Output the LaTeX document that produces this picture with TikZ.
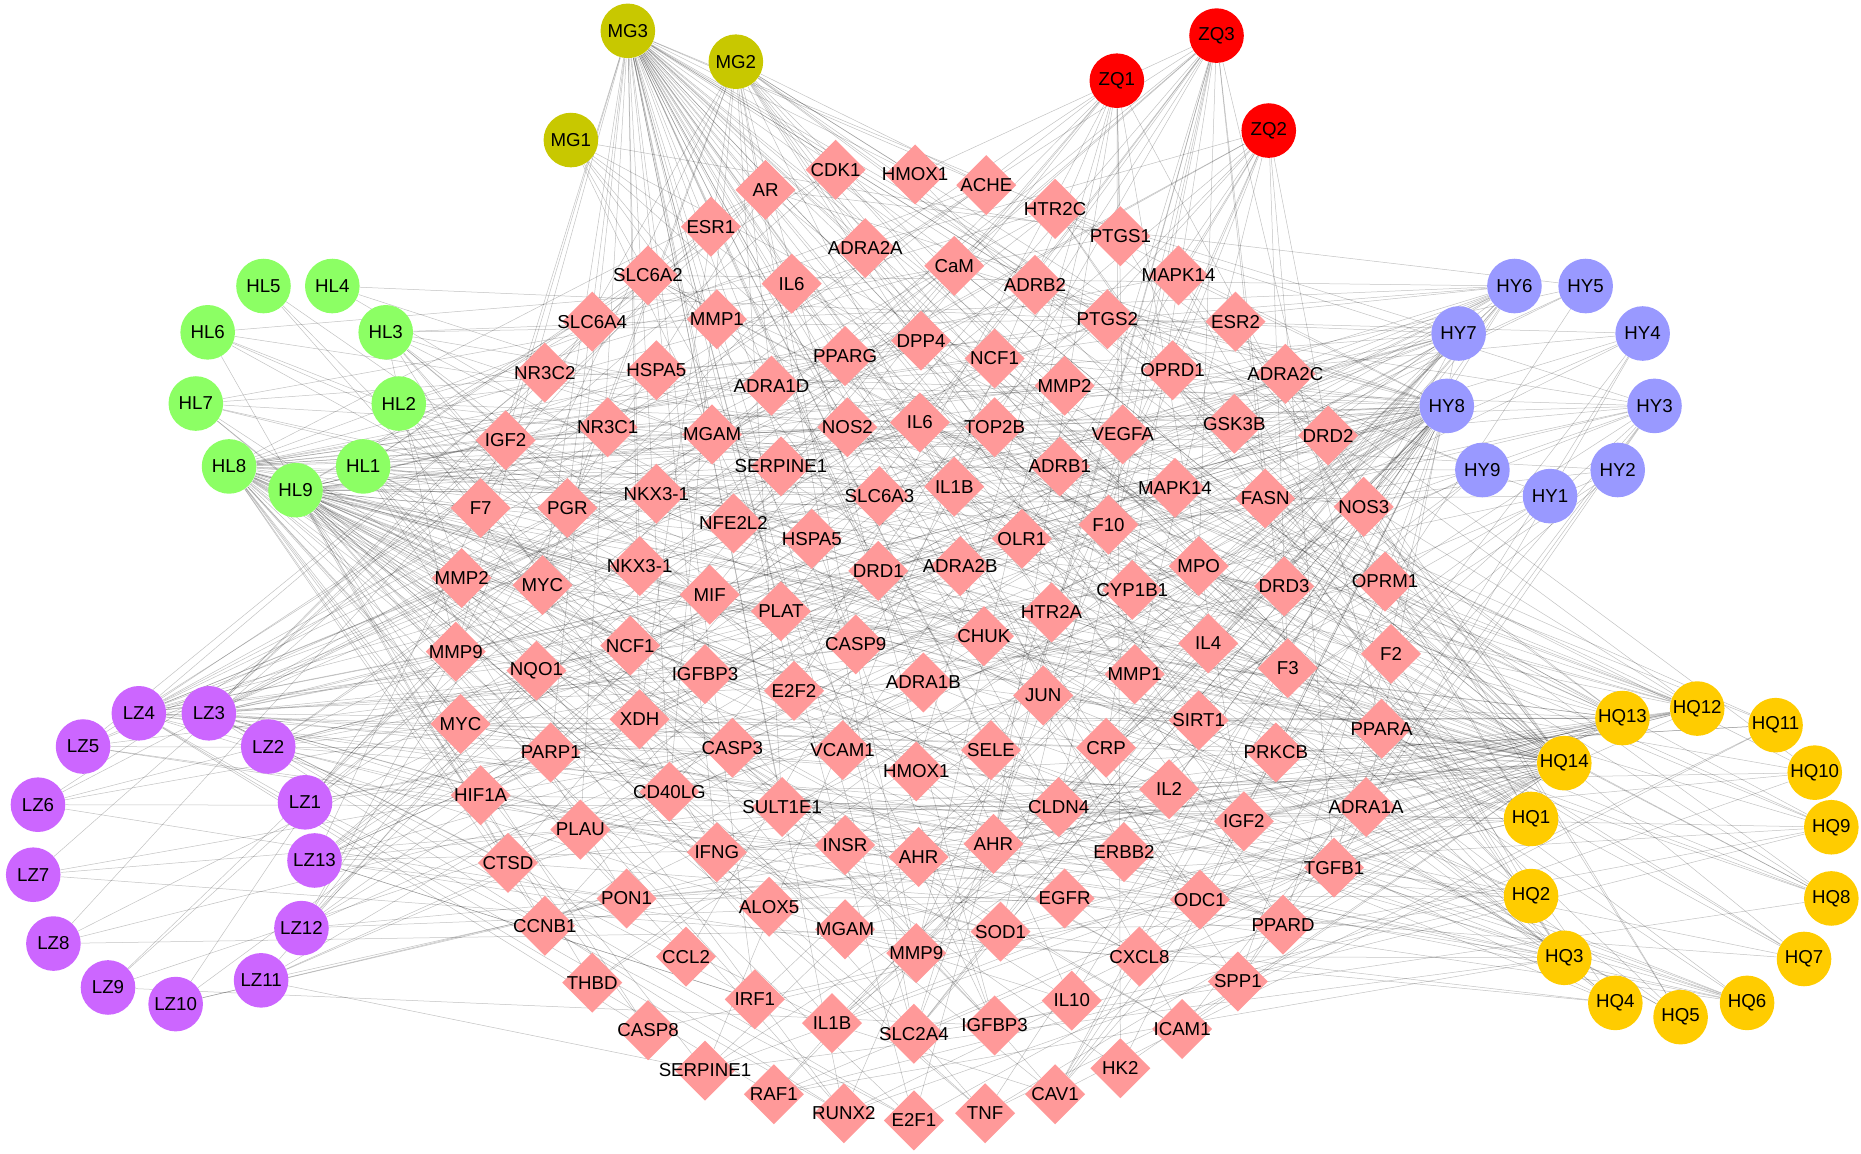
\documentclass[tikz,border=0pt]{standalone}
\usepackage{fontspec}
\setmainfont{Liberation Sans}
\usetikzlibrary{shapes.geometric,backgrounds}
\definecolor{mgc}{HTML}{C8C800}
\definecolor{zqc}{HTML}{FF0000}
\definecolor{hlc}{HTML}{8CFF64}
\definecolor{hyc}{HTML}{9999FF}
\definecolor{lzc}{HTML}{CC66FF}
\definecolor{hqc}{HTML}{FFCC00}
\definecolor{dgc}{HTML}{FF9999}
\begin{document}
\begin{tikzpicture}[x=0.025cm,y=-0.025cm,
  every node/.style={font=\fontsize{11.2}{13}\selectfont, text=black},
  dia/.style={diamond, fill=dgc, minimum width=1.27cm, minimum height=1.27cm, inner sep=0pt},
  herb/.style={circle, minimum size=1.15cm, inner sep=0pt},
  edge/.style={draw=black, opacity=0.24, line width=0.3pt}]
\useasboundingbox (0,0) rectangle (1568,972);

\foreach \t/\x/\y [count=\i] in {
CDK1/704/143, HMOX1/771/147, ACHE/831/156, AR/645/160, HTR2C/889/176,
ESR1/599/191, PTGS1/944/199, ADRA2A/729/209, CaM/804/224, MAPK14/993/232,
SLC6A2/546/232, IL6/667/239, ADRB2/872/240, PTGS2/933/269, ESR2/1041/271,
SLC6A4/499/271, MMP1/604/269, DPP4/776/287, NCF1/838/302, PPARG/712/300,
NR3C2/459/314, HSPA5/553/312, ADRA1D/650/325, MMP2/897/325, OPRD1/988/312,
ADRA2C/1083/315, NR3C1/512/360, IGF2/426/371, MGAM/600/366, NOS2/714/360,
IL6/775/356, TOP2B/838/360, VEGFA/946/366, GSK3B/1040/357, DRD2/1119/367,
SERPINE1/658/393, ADRB1/893/393, NKX3-1/553/416, SLC6A3/741/418, IL1B/804/410,
MAPK14/990/411, FASN/1066/420, NOS3/1149/427, F7/405/428, PGR/478/428,
NFE2L2/618/441, HSPA5/684/454, OLR1/861/454, F10/934/442, NKX3-1/539/477,
DRD1/740/481, ADRA2B/809/477, MPO/1010/477, MMP2/389/487, MYC/457/493,
CYP1B1/954/497, DRD3/1082/494, OPRM1/1167/490, MIF/598/501, PLAT/658/515,
HTR2A/886/516, CHUK/829/536, CASP9/721/543, NCF1/531/544, MMP9/384/549,
IL4/1018/542, F3/1085/563, F2/1172/551, IGFBP3/594/568, NQO1/452/565,
E2F2/669/582, ADRA1B/778/575, MMP1/956/568, JUN/879/586, MYC/388/610,
XDH/539/606, SIRT1/1010/607, PPARA/1164/614, CASP3/617/630, VCAM1/710/632,
SELE/835/632, CRP/932/630, PARP1/464/634, HMOX1/772/650, PRKCB/1075/634,
HIF1A/405/670, CD40LG/564/667, SULT1E1/659/680, CLDN4/892/680, IL2/985/665,
ADRA1A/1151/680, PLAU/489/699, IFNG/604/718, INSR/712/712, AHR/774/722,
AHR/837/711, IGF2/1048/692, ERBB2/947/718, TGFB1/1124/731, CTSD/428/727,
PON1/528/757, ALOX5/648/764, EGFR/897/757, ODC1/1011/758, CCNB1/459/780,
MGAM/712/783, SOD1/843/785, PPARD/1081/779, MMP9/772/803, CXCL8/960/806,
CCL2/578/806, THBD/499/828, SPP1/1043/827, IRF1/636/842, IL10/903/843,
CASP8/546/868, IL1B/701/862, SLC2A4/770/871, IGFBP3/838/864, ICAM1/996/867,
SERPINE1/594/902, HK2/944/900, RAF1/652/922, RUNX2/711/938, E2F1/770/944,
TNF/830/938, CAV1/889/922}
{ \node[dia, label={center:\t}] (d\i) at (\x,\y) {}; }

\foreach \n/\x/\y/\c in {
MG3/529/26/mgc, MG2/620/52/mgc, MG1/481/118/mgc,
ZQ3/1025/30/zqc, ZQ1/941/68/zqc, ZQ2/1069/110/zqc,
HL5/222/241/hlc, HL4/280/241/hlc, HL3/325/280/hlc, HL6/175/280/hlc, HL7/165/340/hlc,
HL2/336/340/hlc, HL8/193/393/hlc, HL1/306/393/hlc, HL9/249/413/hlc,
HY6/1276/241/hyc, HY5/1336/241/hyc, HY7/1229/281/hyc, HY4/1384/281/hyc, HY8/1219/342/hyc,
HY3/1394/342/hyc, HY9/1249/396/hyc, HY1/1306/418/hyc, HY2/1363/396/hyc,
LZ4/117/601/lzc, LZ3/176/601/lzc, LZ5/70/629/lzc, LZ2/226/629/lzc, LZ6/32/678/lzc,
LZ1/257/676/lzc, LZ7/28/737/lzc, LZ13/265/725/lzc, LZ8/45/795/lzc, LZ12/254/782/lzc,
LZ9/91/832/lzc, LZ11/220/826/lzc, LZ10/148/846/lzc,
HQ13/1367/605/hqc, HQ12/1430/597/hqc, HQ11/1496/611/hqc, HQ14/1318/643/hqc,
HQ10/1529/651/hqc, HQ1/1290/690/hqc, HQ9/1543/697/hqc, HQ2/1290/755/hqc,
HQ8/1543/757/hqc, HQ3/1318/807/hqc, HQ7/1520/808/hqc, HQ4/1361/845/hqc,
HQ6/1472/845/hqc, HQ5/1416/857/hqc}
{ \node[herb, fill=\c] (\n) at (\x,\y) {\n}; }

\begin{pgfonlayer}{background}
\foreach \n/\cnt/\s/\st in {
MG3/60/3/37, MG2/25/11/53, MG1/8/17/71, ZQ3/22/23/29, ZQ1/16/31/89, ZQ2/16/41/19,
HL8/50/7/61, HL9/45/13/43, HL1/16/19/97, HL2/10/27/13, HL3/12/33/79, HL7/8/39/107,
HL6/6/45/31, HL5/3/51/67, HL4/3/57/83,
HY8/55/61/47, HY7/20/67/59, HY6/20/71/101, HY3/15/77/7, HY4/8/83/113, HY5/5/89/41,
HY9/6/93/23, HY1/5/97/73, HY2/5/101/91,
LZ4/25/105/17, LZ3/25/109/103, LZ2/10/113/11, LZ1/8/117/67, LZ13/15/121/57,
LZ12/10/125/33, LZ11/6/2/49, LZ10/4/6/87, LZ9/4/10/27, LZ8/4/14/93, LZ7/4/18/109,
LZ6/6/22/39, LZ5/8/26/77,
HQ14/55/30/111, HQ13/20/34/21, HQ12/20/38/63, HQ1/15/42/99, HQ2/12/46/9,
HQ3/15/50/81, HQ4/8/54/51, HQ5/6/58/119, HQ6/10/62/3, HQ7/6/66/69, HQ8/8/70/117,
HQ9/8/74/35, HQ10/6/78/45, HQ11/6/82/85}
{ \foreach \k in {1,...,\cnt} {
    \pgfmathtruncatemacro\j{mod(\s+\k*\st,127)+1}
    \draw[edge] (\n) -- (d\j);
} }
\end{pgfonlayer}
\end{tikzpicture}
\end{document}
